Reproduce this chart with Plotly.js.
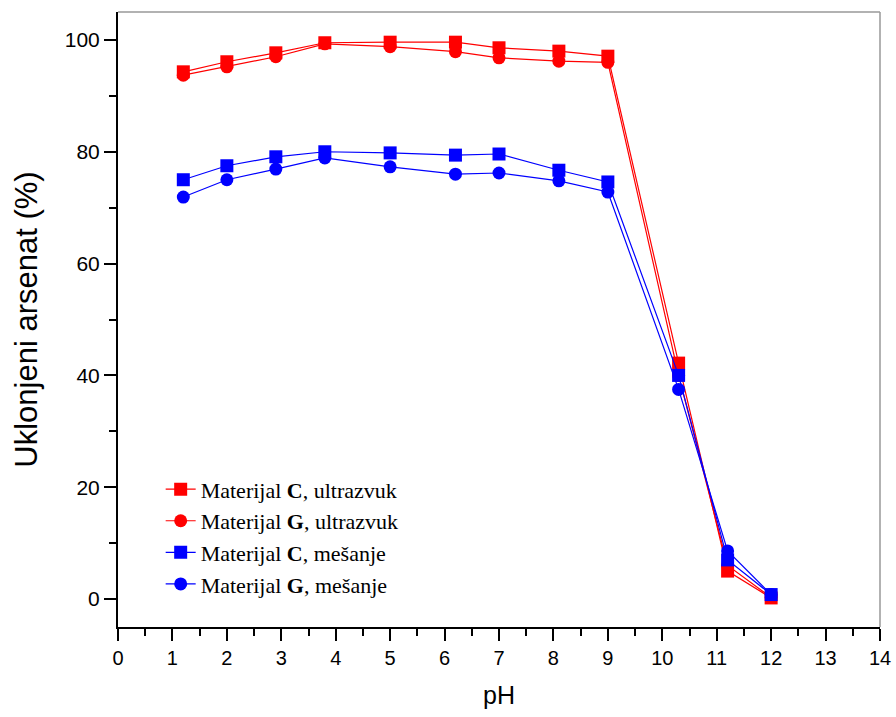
<!DOCTYPE html>
<html>
<head>
<meta charset="utf-8">
<script src="https://cdn.plot.ly/plotly-3.0.1.min.js"></script>
<style>html,body{margin:0;padding:0;background:#fff;}#chart{width:896px;height:717px;}</style>
</head>
<body>
<div id="chart"></div>
<script>
const pH = [1.2, 2.0, 2.9, 3.8, 5.0, 6.2, 7.0, 8.1, 9.0, 10.3, 11.2, 12.0];
const cUltrazvuk = [94.3, 96.1, 97.7, 99.5, 99.6, 99.6, 98.6, 98.0, 97.1, 42.2, 5.0, 0.2];
const gUltrazvuk = [93.7, 95.2, 97.0, 99.3, 98.8, 97.9, 96.8, 96.2, 96.0, 40.0, 6.0, 0.3];
const cMesanje = [75.0, 77.5, 79.1, 80.0, 79.8, 79.4, 79.6, 76.7, 74.6, 40.0, 7.0, 0.8];
const gMesanje = [71.9, 75.0, 76.9, 78.9, 77.3, 76.0, 76.2, 74.8, 72.8, 37.5, 8.6, 0.8];
const seriesNames = [
  'Materijal <b>C</b>, ultrazvuk',
  'Materijal <b>G</b>, ultrazvuk',
  'Materijal <b>C</b>, mešanje',
  'Materijal <b>G</b>, mešanje'
];
const xTitle = 'pH';
const yTitle = 'Uklonjeni arsenat (%)';

const RED = '#ff0000', BLUE = '#0000ff';
function tr(y, name, color, symbol, grp) {
  return {
    x: pH, y: y, name: name, type: 'scatter', mode: 'lines+markers',
    legendgroup: grp,
    line: {color: color, width: 1.2},
    marker: {color: color, symbol: symbol, size: 13, line: {width: 0}}
  };
}
const data = [
  tr(cUltrazvuk, seriesNames[0], RED, 'square', 'a'),
  tr(gUltrazvuk, seriesNames[1], RED, 'circle', 'b'),
  tr(cMesanje, seriesNames[2], BLUE, 'square', 'c'),
  tr(gMesanje, seriesNames[3], BLUE, 'circle', 'd')
];

const layout = {
  width: 896, height: 717,
  margin: {l: 118, r: 16, t: 12, b: 90},
  paper_bgcolor: '#fff', plot_bgcolor: '#fff',
  showlegend: true,
  legend: {
    x: 0.056, y: 0.258, xanchor: 'left', yanchor: 'top',
    bgcolor: 'rgba(0,0,0,0)', borderwidth: 0,
    tracegroupgap: 0,
    font: {family: '"Liberation Serif", "Times New Roman", serif', size: 22, color: '#000'}
  },
  xaxis: {
    range: [0, 14], dtick: 1, tick0: 0,
    showgrid: false, zeroline: false,
    showline: true, linecolor: '#000', linewidth: 2,
    ticks: 'outside', ticklen: 12, tickwidth: 2, tickcolor: '#000',
    minor: {dtick: 0.5, ticks: 'outside', ticklen: 7, tickwidth: 2, tickcolor: '#000', showgrid: false},
    tickfont: {family: '"Liberation Sans", Arial, sans-serif', size: 20, color: '#000'},
    title: {text: xTitle, font: {family: '"Liberation Sans", Arial, sans-serif', size: 25, color: '#000'}, standoff: 18}
  },
  yaxis: {
    range: [-5, 105], dtick: 20, tick0: 0,
    showgrid: false, zeroline: false,
    showline: true, linecolor: '#000', linewidth: 2,
    ticks: 'outside', ticklen: 12, tickwidth: 2, tickcolor: '#000',
    minor: {dtick: 10, ticks: 'outside', ticklen: 7, tickwidth: 2, tickcolor: '#000', showgrid: false},
    tickfont: {family: '"Liberation Sans", Arial, sans-serif', size: 21, color: '#000'},
    title: {text: yTitle, font: {family: '"Liberation Sans", Arial, sans-serif', size: 31, color: '#000'}, standoff: 18}
  },
  shapes: [
    {type: 'line', xref: 'paper', yref: 'paper', x0: 0, x1: 1, y0: 1, y1: 1, line: {color: '#999', width: 1.5}},
    {type: 'line', xref: 'paper', yref: 'paper', x0: 1, x1: 1, y0: 0, y1: 1, line: {color: '#999', width: 1.5}}
  ]
};

Plotly.newPlot('chart', data, layout, {displayModeBar: false, staticPlot: true});
</script>
</body>
</html>
